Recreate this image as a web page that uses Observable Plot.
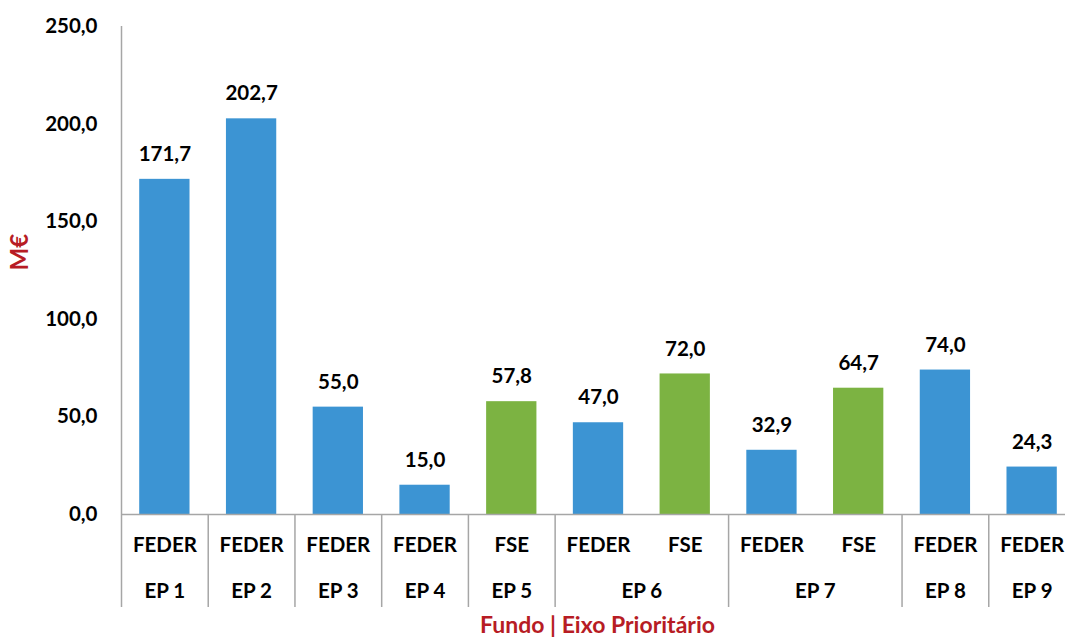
<!DOCTYPE html>
<html>
<head>
<meta charset="utf-8">
<script src="https://cdn.jsdelivr.net/npm/d3@7"></script>
<script src="https://cdn.jsdelivr.net/npm/@observablehq/plot@0.6"></script>
<style>
  html, body { margin: 0; padding: 0; background: #fff; overflow: hidden; }
  #chart svg { display: block; max-width: none !important; }
</style>
</head>
<body>
<div id="chart"></div>
<script>
// Data
const fundos = ["FEDER", "FEDER", "FEDER", "FEDER", "FSE", "FEDER", "FSE", "FEDER", "FSE", "FEDER", "FEDER"];
const eixos  = ["EP 1", "EP 2", "EP 3", "EP 4", "EP 5", "EP 6", "EP 6", "EP 7", "EP 7", "EP 8", "EP 9"];
const valores = [171.7, 202.7, 55.0, 15.0, 57.8, 47.0, 72.0, 32.9, 64.7, 74.0, 24.3];
const yTicks = [0, 50, 100, 150, 200, 250];
const fundoDomain = ["FEDER", "FSE"];
const fundoColors = ["#3c94d3", "#7cb342"];

const fmt = v => v.toFixed(1).replace(".", ",");

const data = valores.map((v, i) => ({id: String(i), fundo: fundos[i], eixo: eixos[i], valor: v}));
// groups of consecutive slots sharing the same eixo
const groups = [];
data.forEach((d, i) => {
  const g = groups[groups.length - 1];
  if (g && g.eixo === d.eixo) { g.last = d.id; g.span++; }
  else groups.push({eixo: d.eixo, first: d.id, last: d.id, span: 1});
});

const width = 1075, height = 639;
const marginLeft = 121, marginRight = 0, marginTop = 26, marginBottom = 125;
const step = (width - marginLeft - marginRight) / data.length;
const font = "Lato, 'Open Sans', sans-serif";
const gray = "#a6a6a6";
// extent of the separators below the baseline, in y units
const yPerPx = 250 / (height - marginTop - marginBottom);
const sepBottom = -93 * yPerPx;

const plot = Plot.plot({
  width, height, marginLeft, marginRight, marginTop, marginBottom,
  style: {fontFamily: font, fontWeight: "bold", fontSize: "20.5px", color: "#000", background: "#fff", maxWidth: "none"},
  x: {domain: data.map(d => d.id), paddingInner: 0.42, paddingOuter: 0.21, round: false, axis: null},
  y: {domain: [0, 250], ticks: yTicks, tickFormat: fmt, tickSize: 0, tickPadding: 24, label: null},
  color: {domain: fundoDomain, range: fundoColors},
  marks: [
    Plot.barY(data, {x: "id", y: "valor", fill: "fundo"}),
    Plot.ruleY([0], {stroke: gray, strokeWidth: 1.5}),
    // y axis line
    Plot.ruleX([data[0].id], {y1: 0, y2: 250, dx: -step / 2, stroke: gray, strokeWidth: 1.5}),
    // group separators
    Plot.ruleX(groups, {x: "first", y1: 0, y2: sepBottom, dx: -step / 2, stroke: gray, strokeWidth: 1.5}),
    Plot.ruleX([groups[groups.length - 1]], {x: "last", y1: 0, y2: sepBottom, dx: step / 2, stroke: gray, strokeWidth: 1.5}),
    // value labels
    Plot.text(data, {x: "id", y: "valor", text: d => fmt(d.valor), dy: -25, lineAnchor: "middle", fill: "#000"}),
    // fund labels
    Plot.text(data, {x: "id", text: "fundo", frameAnchor: "bottom", dy: 31, lineAnchor: "middle", fill: "#000"}),
    // eixo labels
    ...groups.map(g => Plot.text([g], {x: "first", text: "eixo", frameAnchor: "bottom", dy: 77, dx: (g.span - 1) * step / 2, lineAnchor: "middle", fill: "#000"})),
    // axis titles
    Plot.text(["Fundo | Eixo Prioritário"], {frameAnchor: "bottom", dy: 111, lineAnchor: "middle", fill: "#b71c24", fontSize: 23, dx: -1}),
    Plot.text(["M€"], {frameAnchor: "left", dx: -101, rotate: -90, lineAnchor: "middle", fill: "#b71c24", fontSize: 24})
  ]
});
document.getElementById("chart").appendChild(plot);
</script>
</body>
</html>
